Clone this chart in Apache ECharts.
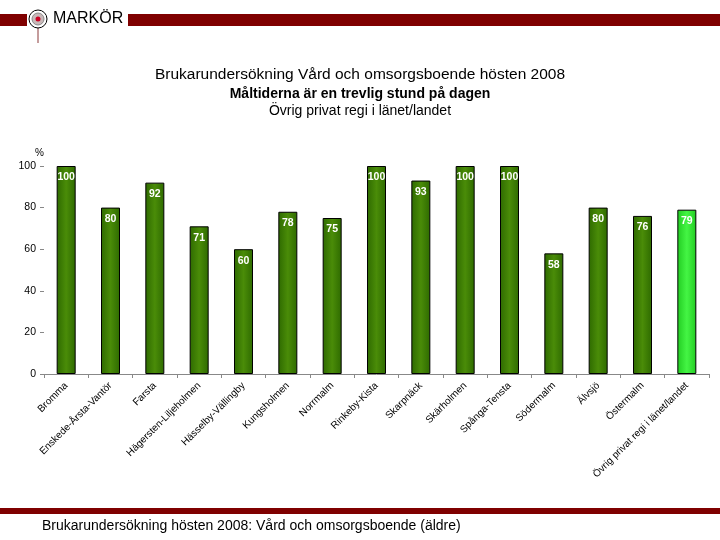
<!DOCTYPE html>
<html><head><meta charset="utf-8">
<script src="https://cdn.jsdelivr.net/npm/echarts@6/dist/echarts.min.js"></script>
<style>html,body{margin:0;padding:0;background:#fff;}#c{width:720px;height:540px;}</style>
</head><body><div id="c"></div>
<script>
var categories = ['Bromma','Enskede-Årsta-Vantör','Farsta','Hägersten-Liljeholmen','Hässelby-Vällingby','Kungsholmen','Norrmalm','Rinkeby-Kista','Skarpnäck','Skärholmen','Spånga-Tensta','Södermalm','Älvsjö','Östermalm','Övrig privat regi i länet/landet'];
var values = [100,80,92,71,60,78,75,100,93,100,100,58,80,76,79];
var highlightIndex = 14;
var yTicks = [0,20,40,60,80,100];

var darkGrad = new echarts.graphic.LinearGradient(0,0,1,0,[{offset:0,color:'#2e6a00'},{offset:0.5,color:'#4a8c08'},{offset:1,color:'#2e6a00'}]);
var lightGrad = new echarts.graphic.LinearGradient(0,0,1,0,[{offset:0,color:'#22cc22'},{offset:0.5,color:'#44f544'},{offset:1,color:'#22cc22'}]);

var chart = echarts.init(document.getElementById('c'));
chart.setOption({
  animation:false,
  backgroundColor:'#fff',
  title:[
    {text:'Brukarundersökning Vård och omsorgsboende hösten 2008',left:'center',top:62,textStyle:{fontFamily:'Liberation Sans',fontSize:15.5,fontWeight:'normal',color:'#000'}},
    {text:'Måltiderna är en trevlig stund på dagen',left:'center',top:82,textStyle:{fontFamily:'Liberation Sans',fontSize:14,fontWeight:'bold',color:'#000'}},
    {text:'Övrig privat regi i länet/landet',left:'center',top:99,textStyle:{fontFamily:'Liberation Sans',fontSize:14,fontWeight:'normal',color:'#000'}}
  ],
  grid:{left:44,right:11,top:166,bottom:166,containLabel:false},
  xAxis:{type:'category',data:categories,
    axisLine:{lineStyle:{color:'#888'}},
    axisTick:{show:true,lineStyle:{color:'#888'},length:4},
    axisLabel:{rotate:45,interval:0,fontFamily:'Liberation Sans',fontSize:10,color:'#000',margin:10}},
  yAxis:{type:'value',min:0,max:100,interval:20,name:'%',nameLocation:'end',nameGap:8,
    nameTextStyle:{fontFamily:'Liberation Sans',fontSize:10,color:'#000',align:'right',padding:[0,0,0,0]},
    splitLine:{show:false},axisLine:{show:false},
    axisTick:{show:true,length:4,lineStyle:{color:'#888'}},
    axisLabel:{fontFamily:'Liberation Sans',fontSize:10.5,color:'#000',margin:8}},
  series:[{type:'bar',barWidth:19,
    data:values.map(function(v,i){return {value:v,itemStyle:{color:i===highlightIndex?lightGrad:darkGrad}};}),
    itemStyle:{borderColor:'#000',borderWidth:1},
    label:{show:true,position:'insideTop',distance:6,color:'#fff',fontFamily:'Liberation Sans',fontSize:10.5,fontWeight:'bold'}
  }],
  graphic:[
    {type:'rect',shape:{x:0,y:14,width:27,height:12},style:{fill:'#7f0000'}},
    {type:'rect',shape:{x:128,y:14,width:592,height:12},style:{fill:'#7f0000'}},
    {type:'line',shape:{x1:38,y1:20,x2:38,y2:43},style:{stroke:'#8b3a3a',lineWidth:1}},
    {type:'circle',shape:{cx:38,cy:19,r:9},style:{fill:'#fff',stroke:'#000',lineWidth:1}},
    {type:'circle',shape:{cx:38,cy:19,r:6},style:{fill:'#c8b8b8',stroke:'#888',lineWidth:1}},
    {type:'circle',shape:{cx:38,cy:19,r:2.5},style:{fill:'#cc0022'}},
    {type:'text',left:53,top:11,style:{text:'MARKÖR',fontFamily:'Liberation Sans',fontSize:16,fill:'#000'}},
    {type:'rect',shape:{x:0,y:508,width:720,height:6},style:{fill:'#7f0000'}},
    {type:'text',left:42,top:519,style:{text:'Brukarundersökning hösten 2008: Vård och omsorgsboende (äldre)',fontFamily:'Liberation Sans',fontSize:14,fill:'#000'}}
  ]
});
</script></body></html>
